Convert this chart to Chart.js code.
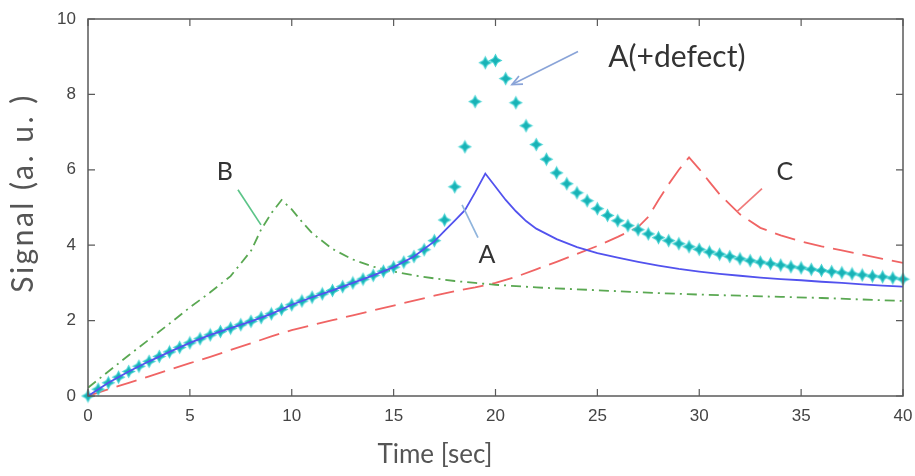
<!DOCTYPE html>
<html><head><meta charset="utf-8">
<script src="https://cdn.jsdelivr.net/npm/chart.js@4.4.1/dist/chart.umd.min.js"></script>
<style>html,body{margin:0;padding:0;background:#fff;}#wrap{width:915px;height:476px;}</style>
</head><body><div id="wrap"><canvas id="c" width="915" height="476"></canvas></div>
<script>
// ---- data ----
const xTicks = [0, 5, 10, 15, 20, 25, 30, 35, 40];
const yTicks = [0, 2, 4, 6, 8, 10];
const xTitle = 'Time [sec]';
const yTitle = 'Signal (a. u. )';

const timeA   = [0,1,2,3,4,5,6,7,8,9,10,11,12,13,14,15,16,17,17.5,18,18.5,19,19.5,20,20.5,21,21.5,22,23,24,25,26,27,28,29,30,31,32,33,34,35,36,37,38,39,40];
const signalA = [0,0.35,0.65,0.92,1.17,1.41,1.62,1.80,1.98,2.18,2.42,2.62,2.80,3.00,3.20,3.42,3.70,4.10,4.38,4.65,4.93,5.40,5.90,5.55,5.20,4.90,4.64,4.44,4.16,3.95,3.79,3.67,3.56,3.46,3.37,3.30,3.24,3.19,3.14,3.10,3.07,3.03,3.00,2.96,2.93,2.90];

const timeDefect   = [0,0.5,1,1.5,2,2.5,3,3.5,4,4.5,5,5.5,6,6.5,7,7.5,8,8.5,9,9.5,10,10.5,11,11.5,12,12.5,13,13.5,14,14.5,15,15.5,16,16.5,17,17.5,18,18.5,19,19.5,20,20.5,21,21.5,22,22.5,23,23.5,24,24.5,25,25.5,26,26.5,27,27.5,28,28.5,29,29.5,30,30.5,31,31.5,32,32.5,33,33.5,34,34.5,35,35.5,36,36.5,37,37.5,38,38.5,39,39.5,40];
const signalDefect = [0,0.18,0.35,0.50,0.65,0.79,0.92,1.05,1.17,1.29,1.41,1.52,1.62,1.71,1.80,1.89,1.98,2.08,2.18,2.30,2.42,2.52,2.62,2.71,2.80,2.90,3.00,3.10,3.20,3.31,3.42,3.55,3.70,3.88,4.12,4.67,5.55,6.61,7.81,8.84,8.90,8.42,7.78,7.17,6.67,6.28,5.92,5.63,5.39,5.18,4.97,4.79,4.65,4.52,4.41,4.30,4.20,4.12,4.04,3.96,3.89,3.82,3.76,3.70,3.64,3.59,3.55,3.51,3.47,3.43,3.40,3.36,3.33,3.30,3.27,3.24,3.21,3.18,3.16,3.13,3.10];

const timeB   = [0,1,2,3,4,5,6,7,8,8.5,9,9.5,10,10.5,11,12,13,14,15,16,17,18,19,20,22,24,26,28,30,32,34,36,38,40];
const signalB = [0.22,0.65,1.08,1.50,1.92,2.35,2.75,3.18,3.85,4.42,4.85,5.20,4.95,4.62,4.32,3.90,3.62,3.43,3.30,3.20,3.12,3.05,3.00,2.95,2.88,2.83,2.78,2.73,2.69,2.66,2.63,2.60,2.56,2.52];

const timeC   = [0,1,2,3,4,5,6,7,8,9,10,11,12,13,14,15,16,17,18,19,20,21,22,23,24,25,26,27,27.5,28,28.5,29,29.5,30,30.5,31,31.5,32,33,34,35,36,37,38,39,40];
const signalC = [0,0.18,0.35,0.52,0.70,0.87,1.04,1.22,1.40,1.58,1.75,1.88,2.01,2.14,2.27,2.40,2.53,2.66,2.78,2.88,3.00,3.16,3.36,3.56,3.77,3.98,4.22,4.48,4.75,5.20,5.62,6.00,6.33,6.02,5.68,5.35,5.08,4.82,4.46,4.26,4.10,3.97,3.86,3.75,3.64,3.53];

// annotation labels (in data units)
const annotations = [
  {text:'B', tx:6.72, ty:5.95, size:25, from:[7.36,5.47], to:[8.49,4.54], lineColor:'#5cc488', arrow:false},
  {text:'A', tx:19.58, ty:3.75, size:25, from:[19.14,4.20], to:[18.36,5.07], lineColor:'#8fb4dc', arrow:false},
  {text:'A(+defect)', tx:28.9, ty:8.98, size:30, from:[24.05,9.14], to:[20.81,8.26], lineColor:'#8aa4d8', arrow:true},
  {text:'C', tx:34.2, ty:5.95, size:25, from:[33.08,5.50], to:[31.85,4.89], lineColor:'#f07a7a', arrow:false}
];

const toXY = (xs, ys) => xs.map((x, i) => ({x: x, y: ys[i]}));

function makeStar() {
  const c = document.createElement('canvas');
  c.width = 15; c.height = 15;
  const g = c.getContext('2d');
  g.translate(7.5, 7.5);
  function star(r, ri, col) {
    g.beginPath();
    for (let i = 0; i < 8; i++) {
      const a = i * Math.PI / 4 - Math.PI / 2;
      const rr = (i % 2 === 0) ? r : ri;
      g.lineTo(rr * Math.cos(a), rr * Math.sin(a));
    }
    g.closePath(); g.fillStyle = col; g.fill();
  }
  star(7, 3.4, '#45d2d2');
  star(4.6, 2.4, '#19b2b6');
  return c;
}
const starImg = makeStar();

const fontFam = 'Lato, "Open Sans", sans-serif';

const framePlugin = {
  id: 'frame',
  afterDatasetsDraw(chart) {
    const {ctx, chartArea: a, scales: {x, y}} = chart;
    ctx.save();
    ctx.strokeStyle = '#5a5a5a';
    ctx.lineWidth = 1.5;
    ctx.strokeRect(a.left, a.top, a.right - a.left, a.bottom - a.top);
    ctx.lineWidth = 1.2;
    const L = 7;
    ctx.beginPath();
    xTicks.forEach(v => {
      const px = x.getPixelForValue(v);
      ctx.moveTo(px, a.bottom); ctx.lineTo(px, a.bottom - L);
      ctx.moveTo(px, a.top); ctx.lineTo(px, a.top + L);
    });
    yTicks.forEach(v => {
      const py = y.getPixelForValue(v);
      ctx.moveTo(a.left, py); ctx.lineTo(a.left + L, py);
      ctx.moveTo(a.right, py); ctx.lineTo(a.right - L, py);
    });
    ctx.stroke();
    // annotations
    annotations.forEach(an => {
      const x1 = x.getPixelForValue(an.from[0]), y1 = y.getPixelForValue(an.from[1]);
      const x2 = x.getPixelForValue(an.to[0]), y2 = y.getPixelForValue(an.to[1]);
      ctx.strokeStyle = an.lineColor; ctx.lineWidth = 1.7;
      ctx.beginPath(); ctx.moveTo(x1, y1); ctx.lineTo(x2, y2); ctx.stroke();
      if (an.arrow) {
        const ang = Math.atan2(y2 - y1, x2 - x1);
        const h = 11, w = 0.42;
        ctx.beginPath();
        ctx.moveTo(x2 - h * Math.cos(ang - w), y2 - h * Math.sin(ang - w));
        ctx.lineTo(x2, y2);
        ctx.lineTo(x2 - h * Math.cos(ang + w), y2 - h * Math.sin(ang + w));
        ctx.stroke();
      }
      ctx.fillStyle = '#333';
      ctx.font = an.size + 'px ' + fontFam;
      ctx.textAlign = 'center'; ctx.textBaseline = 'middle';
      ctx.fillText(an.text, x.getPixelForValue(an.tx), y.getPixelForValue(an.ty));
    });
    // axis titles
    ctx.fillStyle = '#555';
    ctx.textAlign = 'center'; ctx.textBaseline = 'middle';
    ctx.font = '26px ' + fontFam;
    ctx.fillText(xTitle, 435, 455);
    ctx.save();
    ctx.translate(23, 193);
    ctx.rotate(-Math.PI / 2);
    ctx.font = '30px ' + fontFam;
    if ('letterSpacing' in ctx) ctx.letterSpacing = '2.5px';
    ctx.fillText(yTitle, 0, 0);
    ctx.restore();
    ctx.restore();
  }
};

const tickFont = {family: '"Liberation Sans Narrow", "Liberation Sans", Arial, sans-serif', size: 17};

new Chart(document.getElementById('c'), {
  type: 'line',
  data: {
    datasets: [
      {label: 'A', data: toXY(timeA, signalA), borderColor: '#5252ee', borderWidth: 1.8, pointRadius: 0, tension: 0},
      {label: 'A(+defect)', data: toXY(timeDefect, signalDefect), showLine: false, pointStyle: starImg, pointRadius: 7, clip: false},
      {label: 'B', data: toXY(timeB, signalB), borderColor: '#5aa852', borderWidth: 1.8, borderDash: [10, 5, 2, 5], pointRadius: 0, tension: 0},
      {label: 'C', data: toXY(timeC, signalC), borderColor: '#f06464', borderWidth: 1.8, borderDash: [21, 9], pointRadius: 0, tension: 0}
    ]
  },
  options: {
    responsive: false, animation: false, devicePixelRatio: 1,
    layout: {padding: {top: 19, right: 12, left: 0, bottom: 0}},
    plugins: {legend: {display: false}, tooltip: {enabled: false}},
    scales: {
      x: {
        type: 'linear', min: 0, max: 40,
        afterBuildTicks: s => { s.ticks = xTicks.map(v => ({value: v})); },
        afterFit: s => { s.height = 80; },
        grid: {display: false}, border: {display: false},
        ticks: {padding: 2, font: tickFont, color: '#444', maxRotation: 0, autoSkip: false},
        title: {display: false, text: xTitle}
      },
      y: {
        type: 'linear', min: 0, max: 10,
        afterBuildTicks: s => { s.ticks = yTicks.map(v => ({value: v})); },
        afterFit: s => { s.width = 88; },
        grid: {display: false}, border: {display: false},
        ticks: {padding: 4, font: tickFont, color: '#444', autoSkip: false},
        title: {display: false, text: yTitle}
      }
    }
  },
  plugins: [framePlugin]
});
</script>
</body></html>
